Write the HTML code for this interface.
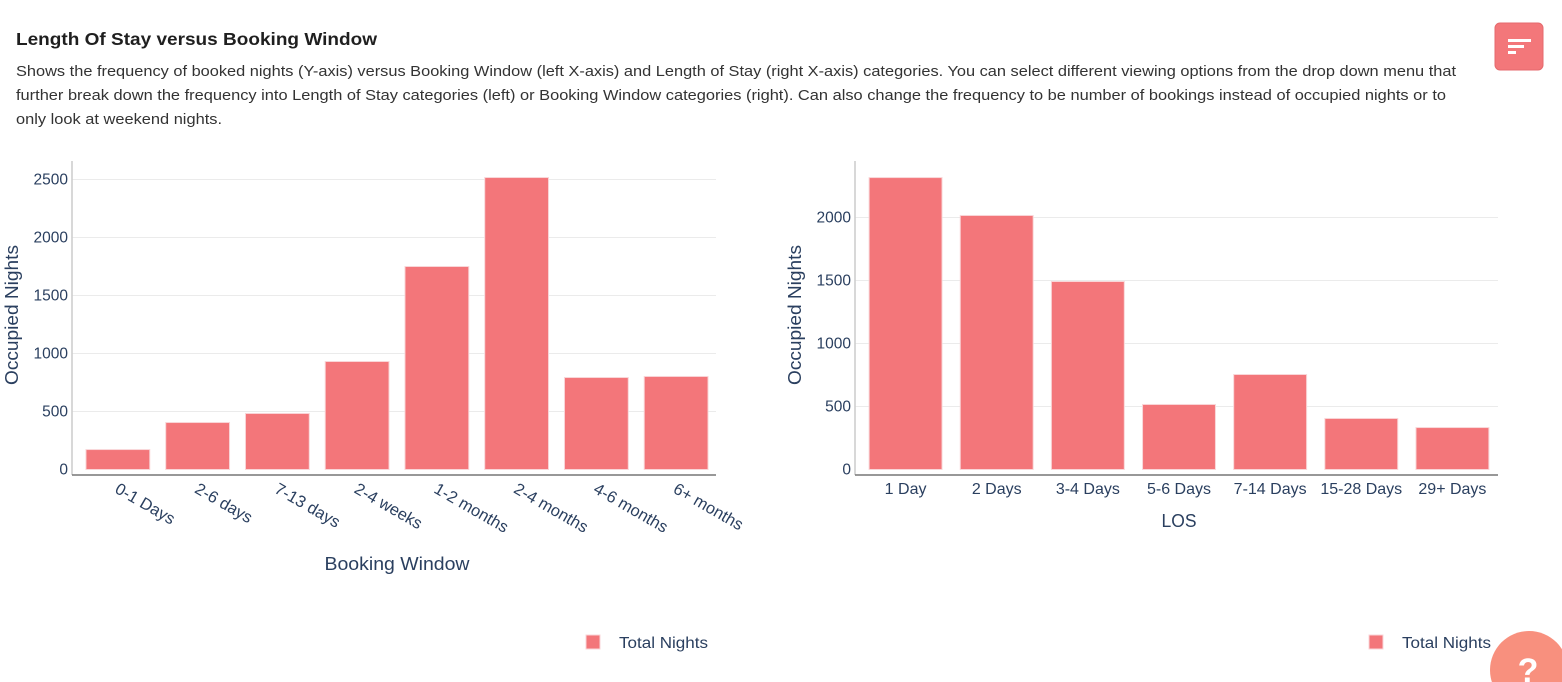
<!DOCTYPE html>
<html><head><meta charset="utf-8"><style>
body{margin:0;background:#fff;width:1562px;height:682px;overflow:hidden;font-family:"Liberation Sans",sans-serif}
svg{position:absolute;left:0;top:0}
</style></head><body>
<svg id="s" width="1562" height="682">
<text x="16" y="45" font-size="17.5" font-weight="bold" fill="#1f1f1f" textLength="361" lengthAdjust="spacingAndGlyphs">Length Of Stay versus Booking Window</text>
<g font-size="14.5" fill="#333">
<text x="16" y="76" textLength="1440" lengthAdjust="spacingAndGlyphs">Shows the frequency of booked nights (Y-axis) versus Booking Window (left X-axis) and Length of Stay (right X-axis) categories. You can select different viewing options from the drop down menu that</text>
<text x="16" y="100" textLength="1430" lengthAdjust="spacingAndGlyphs">further break down the frequency into Length of Stay categories (left) or Booking Window categories (right). Can also change the frequency to be number of bookings instead of occupied nights or to</text>
<text x="16" y="124" textLength="206" lengthAdjust="spacingAndGlyphs">only look at weekend nights.</text>
</g>
<g>
<rect x="1495" y="23" width="48" height="47" rx="5" fill="#f3777a" stroke="#e56a6d"/>
<rect x="1508" y="39" width="23" height="3" fill="#fff"/><rect x="1508" y="45" width="16" height="3" fill="#fff"/><rect x="1508" y="51" width="8" height="3" fill="#fff"/>
</g>
<g>
<circle cx="1529" cy="670" r="39" fill="#f8907e"/>
<text x="1528" y="682" font-size="34" font-weight="bold" fill="#fff" text-anchor="middle">?</text>
</g>
<g id="left"></g>
<g id="right"></g>
</svg>
<script>
const leftCategories=["0-1 Days","2-6 days","7-13 days","2-4 weeks","1-2 months","2-4 months","4-6 months","6+ months"];
const leftValues=[172,405,483,931,1750,2517,793,802];
const leftTicks=[0,500,1000,1500,2000,2500];
const rightCategories=["1 Day","2 Days","3-4 Days","5-6 Days","7-14 Days","15-28 Days","29+ Days"];
const rightValues=[2317,2016,1492,516,754,405,333];
const rightTicks=[0,500,1000,1500,2000];
const NS="http://www.w3.org/2000/svg";
function mk(p,t,a,txt){const e=document.createElementNS(NS,t);for(const k in a)e.setAttribute(k,a[k]);if(txt!=null)e.textContent=txt;p.appendChild(e);return e;}
function chart(g,cats,vals,ticks,o){
  const y=v=>o.y0-v*o.k;
  const bw=(o.x1-o.x0)/cats.length;
  const x=i=>o.x0+bw*(i+0.5);
  ticks.forEach(t=>{
    if(t>0){const l=mk(g,'line',{x1:o.ax,x2:o.x1,y1:y(t),y2:y(t),stroke:'#ebebeb'});
    
    }
    const tl=mk(g,'text',{x:o.ax-4,y:y(t)+5,'font-size':15.5,fill:'#2a3f5f','text-anchor':'end'},t);
    
    
  });
  mk(g,'line',{x1:o.ax,x2:o.ax,y1:161,y2:475,stroke:'#ccc','stroke-width':1.5});
  vals.forEach((v,i)=>{
    const r=mk(g,'rect',{x:x(i)-bw*0.4,y:y(v),width:bw*0.8,height:v*o.k,fill:'#f3767a',stroke:'#f9d6d8','stroke-width':1});
    
    
  });
  mk(g,'line',{x1:o.ax,x2:o.x1,y1:475,y2:475,stroke:'#777','stroke-width':1.5});
  cats.forEach((c,i)=>{
    let t;
    if(o.rot){t=mk(g,'text',{x:x(i)-4,y:492,'font-size':16.5,fill:'#2a3f5f',transform:`rotate(30 ${x(i)-4} 492)`},c);}
    else{t=mk(g,'text',{x:x(i),y:494,'font-size':16,fill:'#2a3f5f','text-anchor':'middle'},c);}
    
    
  });
  const yt=mk(g,'text',{x:0,y:0,'font-size':18,fill:'#2a3f5f','text-anchor':'middle',textLength:140,lengthAdjust:'spacingAndGlyphs',transform:`translate(${o.ytx},${o.yty}) rotate(-90)`},'Occupied Nights');
  
  
  const xt=mk(g,'text',{x:o.xtx,y:o.xty,'font-size':18,fill:'#2a3f5f','text-anchor':'middle',textLength:o.xtl,lengthAdjust:'spacingAndGlyphs'},o.xtitle);
  
  
  const lg=mk(g,'g',{});
  
  
  mk(lg,'rect',{x:o.lx,y:635,width:14,height:14,fill:'#f3767a',stroke:'#f9d6d8'});
  mk(lg,'text',{x:o.lx+33,y:648,'font-size':15.5,fill:'#2a3f5f',textLength:89,lengthAdjust:'spacingAndGlyphs'},'Total Nights');
}
chart(document.getElementById('left'),leftCategories,leftValues,leftTicks,{x0:78,x1:716,ax:72,y0:469.5,k:0.116,rot:true,ytx:18,yty:315,xtx:397,xty:570,xtl:145,xtitle:'Booking Window',lx:586});
chart(document.getElementById('right'),rightCategories,rightValues,rightTicks,{x0:860,x1:1498,ax:855,y0:469.5,k:0.126,rot:false,ytx:801,yty:315,xtx:1179,xty:527,xtl:35,xtitle:'LOS',lx:1369});
</script>
</body></html>
